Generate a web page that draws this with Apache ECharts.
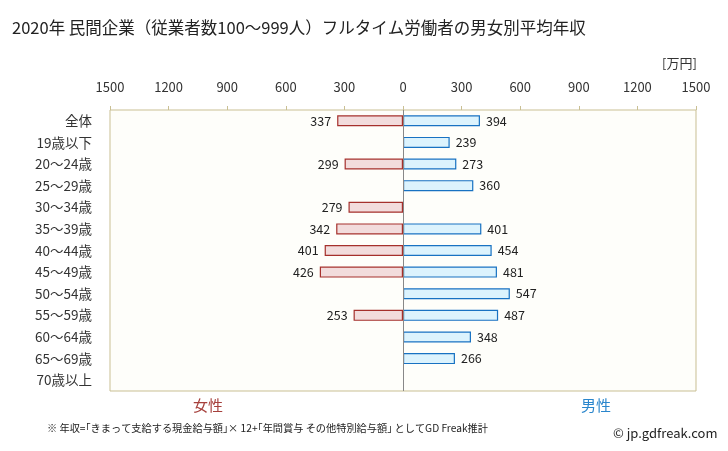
<!DOCTYPE html>
<html><head><meta charset="utf-8">
<script src="https://cdn.jsdelivr.net/npm/echarts@6/dist/echarts.min.js"></script>
<style>html,body{margin:0;padding:0;background:#fff}#c{width:728px;height:451px}</style>
</head><body><div id="c"></div>
<script>
const categories = ['全体','19歳以下','20～24歳','25～29歳','30～34歳','35～39歳','40～44歳','45～49歳','50～54歳','55～59歳','60～64歳','65～69歳','70歳以上'];
const female = [337, null, 299, null, 279, 342, 401, 426, null, 253, null, null, null];
const male = [394, 239, 273, 360, null, 401, 454, 481, 547, 487, 348, 266, null];
const tickValues = [-1500,-1200,-900,-600,-300,0,300,600,900,1200,1500];

const FONT = '"Noto Sans CJK JP", "Noto Sans", sans-serif';
const chart = echarts.init(document.getElementById('c'), null, {renderer:'canvas'});
chart.setOption({
  animation: false,
  backgroundColor: '#ffffff',
  textStyle: {fontFamily: FONT},
  title: {
    text: '2020年 民間企業（従業者数100～999人）フルタイム労働者の男女別平均年収',
    left: 7, top: 14,
    textStyle: {fontSize: 16.5, fontWeight: 'normal', color: '#222', fontFamily: FONT}
  },
  grid: {left: 110, right: 32, top: 110, bottom: 60, show: true,
         borderColor: '#c9bf93', borderWidth: 1, backgroundColor: '#fefefa'},
  xAxis: {
    type: 'value', position: 'top', min: -1500, max: 1500, interval: 300,
    axisLine: {show: false},
    axisTick: {show: true, inside: false, length: 4, lineStyle: {color: '#c9bf93'}},
    splitLine: {show: false},
    axisLabel: {margin: 16, fontSize: 13, color: '#333', fontFamily: FONT,
      formatter: v => String(Math.abs(v))}
  },
  yAxis: {
    type: 'category', data: categories, inverse: true,
    axisLine: {show: false}, axisTick: {show: false},
    axisLabel: {margin: 18, fontSize: 13.5, color: '#333', fontFamily: FONT}
  },
  series: [
    {
      type: 'bar', name: '女性', barWidth: 11, barGap: '-100%',
      data: female.map(v => v == null ? null : -v),
      itemStyle: {color: '#f2dcdc', borderColor: '#a5302c', borderWidth: 1.2},
      label: {show: true, position: 'left', distance: 6, fontSize: 12.5, color: '#222', fontFamily: FONT,
        formatter: p => String(Math.abs(p.value))},
      markLine: {silent: true, symbol: 'none', label: {show: false},
        lineStyle: {color: '#888', type: 'solid', width: 1},
        data: [{xAxis: 0}]}
    },
    {
      type: 'bar', name: '男性', barWidth: 11,
      data: male,
      itemStyle: {color: '#dcf3fd', borderColor: '#1872c2', borderWidth: 1.2},
      label: {show: true, position: 'right', distance: 6, fontSize: 12.5, color: '#222', fontFamily: FONT}
    }
  ],
  graphic: [
    {type: 'text', left: 662, top: 57, style: {text: '[万円]', fontSize: 13, fill: '#333', fontFamily: FONT}},
    {type: 'text', left: 193, top: 398, style: {text: '女性', fontSize: 15, fill: '#a6403c', fontFamily: FONT}},
    {type: 'text', left: 581, top: 398, style: {text: '男性', fontSize: 15, fill: '#2a86cc', fontFamily: FONT}},
    {type: 'text', left: 47, top: 423, style: {text: '※ 年収=｢きまって支給する現金給与額｣× 12+｢年間賞与 その他特別給与額｣ としてGD Freak推計', fontSize: 10.2, fill: '#222', fontFamily: FONT}},
    {type: 'text', left: 613, top: 427, style: {text: '© jp.gdfreak.com', fontSize: 13, fill: '#222', fontFamily: FONT}}
  ]
});
</script></body></html>
